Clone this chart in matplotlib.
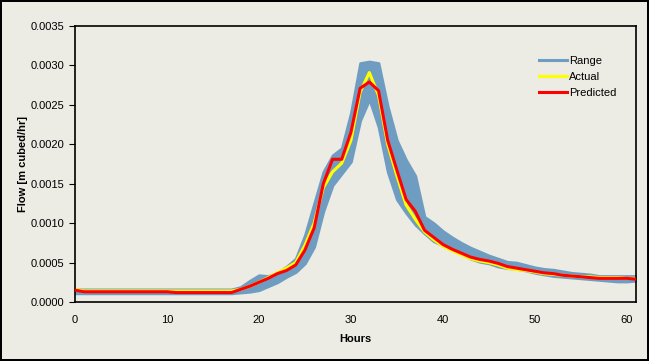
import matplotlib.pyplot as plt
from matplotlib.ticker import FormatStrFormatter

# ----------------- Plot config --------------------------------------- #
plt.rcParams["font.family"] = ["Liberation Sans", "DejaVu Sans"]
plt.rc('font', size=8)

BG = '#ECECE4'
BLUE = '#6F9DC1'
YELLOW = '#FFFF00'
RED = '#FF0000'

# ----------------- Data ---------------------------------------------- #
hours = list(range(62))

range_upper = [0.00016] * 18 + [
    0.00019, 0.00027, 0.00034, 0.00033, 0.00037, 0.00045, 0.00055, 0.00085,
    0.00125, 0.00165, 0.00186, 0.00195, 0.00240, 0.00303, 0.00305, 0.00303,
    0.00248, 0.00205, 0.00180, 0.00160, 0.00108, 0.00100, 0.00090, 0.00082,
    0.00075, 0.00069, 0.00064, 0.00059, 0.00055, 0.00051, 0.00050, 0.00047,
    0.00044, 0.00042, 0.00041, 0.00039, 0.00037, 0.00036, 0.00035, 0.00033,
    0.00033, 0.00033, 0.00033, 0.00033]

range_lower = [0.00011] * 18 + [
    0.00012, 0.00013, 0.00015, 0.00020, 0.00025, 0.00032, 0.00038, 0.00049,
    0.00070, 0.00115, 0.00148, 0.00163, 0.00178, 0.00230, 0.00257, 0.00222,
    0.00165, 0.00130, 0.00113, 0.00098, 0.00087, 0.00077, 0.00072, 0.00068,
    0.00061, 0.00055, 0.00051, 0.00049, 0.00045, 0.00043, 0.00042, 0.00040,
    0.00037, 0.00035, 0.00033, 0.00032, 0.00031, 0.00030, 0.00029, 0.00028,
    0.00027, 0.00026, 0.00026, 0.00027]

actual = [0.00016] + [0.00014] * 17 + [
    0.00016, 0.00020, 0.00025, 0.00031, 0.00037, 0.00043, 0.00050, 0.00072,
    0.00100, 0.00145, 0.00165, 0.00176, 0.00205, 0.00266, 0.00291, 0.00262,
    0.00200, 0.00160, 0.00123, 0.00105, 0.00089, 0.00079, 0.00071, 0.00065,
    0.00060, 0.00055, 0.00052, 0.00050, 0.00047, 0.00043, 0.00041, 0.00040,
    0.00038, 0.00036, 0.00035, 0.00034, 0.00033, 0.00032, 0.00032, 0.00031,
    0.00031, 0.00031, 0.00030, 0.00030]

predicted = [0.00015] + [0.00013] * 10 + [0.00012] * 7 + [
    0.00016, 0.00020, 0.00025, 0.00030, 0.00036, 0.00040, 0.00047, 0.00066,
    0.00094, 0.00150, 0.00181, 0.00181, 0.00215, 0.00271, 0.00279, 0.00268,
    0.00205, 0.00167, 0.00130, 0.00115, 0.00091, 0.00082, 0.00073, 0.00067,
    0.00062, 0.00057, 0.00054, 0.00052, 0.00049, 0.00045, 0.00043, 0.00041,
    0.00039, 0.00037, 0.00036, 0.00034, 0.00033, 0.00032, 0.00031, 0.00030,
    0.00030, 0.00030, 0.00030, 0.00029]

# ----------------- Figure -------------------------------------------- #
fig = plt.figure(figsize=(6.49, 3.61), dpi=100, facecolor=BG,
                 edgecolor='black', linewidth=1.5)
ax = fig.add_axes([0.1156, 0.1634, 0.8644, 0.7646])
ax.set_facecolor(BG)

ax.fill_between(hours, range_lower, range_upper, color=BLUE, lw=2,
                edgecolor=BLUE, zorder=1)
ax.plot([], [], color=BLUE, lw=2.2, label='Range')
ax.plot(hours, actual, color=YELLOW, lw=2.2, label='Actual', zorder=2)
ax.plot(hours, predicted, color=RED, lw=2.2, label='Predicted', zorder=3)

ax.set_xlim(0, 61)
ax.set_ylim(0, 0.0035)
ax.set_xticks(range(0, 61, 10))
ax.set_yticks([i * 0.0005 for i in range(8)])
ax.yaxis.set_major_formatter(FormatStrFormatter('%.4f'))
ax.tick_params(axis='x', length=0, pad=9)
ax.tick_params(axis='y', length=4, direction='out')
for s in ax.spines.values():
    s.set_linewidth(1.2)

ax.set_xlabel('Hours', fontweight='bold', labelpad=7)
ax.set_ylabel('Flow [m cubed/hr]', fontweight='bold', labelpad=2)

ax.legend(loc='upper right', bbox_to_anchor=(0.983, 0.927), frameon=False,
          handlelength=2.5, handletextpad=0.2, labelspacing=0.55)

fig.savefig('out.png', dpi=100, facecolor=BG, edgecolor='black')
